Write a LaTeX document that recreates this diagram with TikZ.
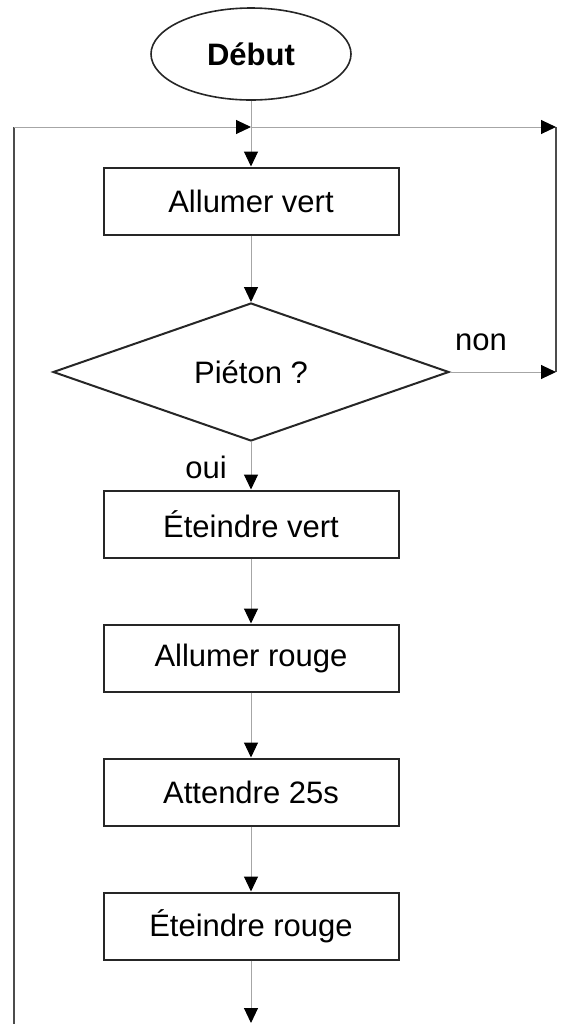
\documentclass[tikz,border=0pt]{standalone}
\usepackage{fontspec}
\setmainfont{Liberation Sans}
\usepackage{tikz}
\usetikzlibrary{shapes.geometric, arrows.meta}
\usetikzlibrary{positioning, shapes}
\tikzstyle{arrow} = [line width=0.5pt, draw=black!35, -{Triangle[length=7.5pt,width=7pt,color=black]}]
\tikzstyle{connect} = [line width=0.5pt, draw=black!35]
\tikzstyle{loopline} = [line width=1pt, draw=black!70]
\tikzstyle{startstop} = [ellipse, minimum width=100pt, minimum height=46pt, text centered, draw=black!85, line width=0.8pt, font=\fontsize{15.5}{18}\selectfont\bfseries]
\tikzstyle{process} = [rectangle, minimum width=147.5pt, minimum height=33.5pt, text centered, draw=black!85, line width=1pt]
\tikzstyle{decision} = [diamond, aspect=2.87, inner sep=0pt, minimum width=198pt, minimum height=69pt, text centered, draw=black!85, line width=1pt]

\begin{document}
\begin{tikzpicture}[x=0.5pt, y=-0.5pt, node distance=67pt, every node/.style={font=\fontsize{15.5}{18}\selectfont}]
            \useasboundingbox (0,0) rectangle (563,1024);

            \node (debut) [startstop] at (251,54) {Début};
            \node (allumerV) [process, below of=debut, yshift=-6.5pt] {Allumer vert};
            \node (pieton) [decision, below of=allumerV, yshift=-18.5pt] {Piéton ?};
            \node (eteindreV) [process, below of=pieton, yshift=-9pt] {Éteindre vert};
            \node (allumerR) [process, below of=eteindreV] {Allumer rouge};
            \node (attendre) [process, below of=allumerR] {Attendre 25s};
            \node (eteindreR) [process, below of=attendre] {Éteindre rouge};

            \node (non) at (481,342) {non};
            \node (oui) at (206,467) {oui};

            \coordinate (jonction) at (251,127);
            \coordinate (hautG) at (14,127);
            \coordinate (basG) at (14,1024);
            \coordinate (hautD) at (556,127);
            \coordinate (milieuD) at (556,372);
            \coordinate (fin) at (251,1023);

            \draw [loopline] (basG) -- (hautG);
            \draw [loopline] (hautD) -- (milieuD);
            \draw [connect] (debut) -- (jonction);
            \draw [arrow] (hautG) -- (jonction);
            \draw [arrow] (jonction) -- (hautD);
            \draw [arrow] (jonction) -- (allumerV);
            \draw [arrow] (allumerV) -- (pieton);
            \draw [arrow] (pieton.east) -- (milieuD);
            \draw [arrow] (pieton) -- (eteindreV);
            \draw [arrow] (eteindreV) -- (allumerR);
            \draw [arrow] (allumerR) -- (attendre);
            \draw [arrow] (attendre) -- (eteindreR);
            \draw [arrow] (eteindreR) -- (fin);

        \end{tikzpicture}
\end{document}
